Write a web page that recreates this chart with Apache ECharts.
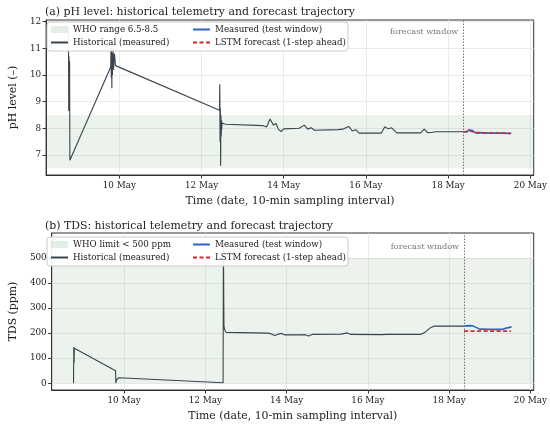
<!DOCTYPE html>
<html>
<head>
<meta charset="utf-8">
<script src="https://cdn.jsdelivr.net/npm/echarts@6/dist/echarts.min.js"></script>
<style>
  html, body { margin: 0; padding: 0; background: #fff; }
  #main { width: 550px; height: 425px; }
</style>
</head>
<body>
<div id="main"></div>
<script>
// times are "DD HH:MM" in May, 10-min sampling
const phHistT = ['08 18:20','08 18:30','08 18:40','08 18:50','08 19:00','08 19:10',
  '09 19:00','09 19:10','09 19:20','09 19:30','09 19:40','09 19:50','09 20:00','09 20:20','09 20:40','09 21:10','09 21:50',
  '12 10:30','12 10:40','12 10:50','12 11:00','12 11:10','12 11:20','12 11:30','12 11:40','12 11:50','12 12:00','12 12:20','12 13:00',
  '12 14:00','13 12:00','13 14:00','13 16:00','13 18:00','13 19:30','13 21:00','13 22:30','14 00:00',
  '14 09:00','14 09:30','14 12:00','14 14:00','14 16:00','14 18:00',
  '15 08:00','15 09:00','15 11:00','15 14:00','15 16:00','15 18:00','15 20:00',
  '16 09:00','16 11:00','16 13:00','16 15:00','16 18:00',
  '17 08:00','17 10:00','17 12:00','17 15:00','17 16:30','18 08:50'];
const phHistV = [11.8, 8.65, 10.7, 8.9, 10.5, 6.8,
  10.3, 11.1, 9.9, 11.0, 9.5, 10.8, 10.0, 11.0, 10.2, 10.8, 10.35,
  8.68, 9.65, 7.5, 8.75, 6.6, 8.5, 7.7, 8.3, 7.95, 8.2, 8.15, 8.18,
  8.15, 8.1, 8.05, 8.35, 8.12, 8.18, 7.95, 7.88, 7.98,
  8.0, 7.95, 8.12, 7.97, 8.02, 7.93,
  7.95, 7.88, 7.98, 8.07, 7.9, 7.95, 7.82,
  7.82, 8.06, 7.98, 8.02, 7.83,
  7.83, 7.97, 7.84, 7.85, 7.87, 7.87];
const phMeasT = ['18 08:50','18 10:00','18 11:00','18 12:00','18 13:00','18 14:00','18 16:00','18 18:00','19 00:00','19 06:00','19 12:50'];
const phMeasV = [7.87, 7.93, 7.86, 7.94, 7.88, 7.92, 7.83, 7.84, 7.82, 7.82, 7.81];
const phLstmT = ['18 08:50','18 10:00','18 12:00','18 14:00','18 16:00','18 20:00','19 06:00','19 12:30'];
const phLstmV = [7.86, 7.89, 7.9, 7.88, 7.84, 7.83, 7.82, 7.81];

const tdsHistT = ['08 18:10','08 18:20','08 18:30','08 18:40','09 19:00','09 19:10','09 19:20','09 19:40','09 21:00',
  '12 10:30','12 10:40','12 11:00','12 11:20','12 12:20','12 13:00',
  '13 13:00','13 15:00','13 17:00','13 19:00','13 21:00','13 23:00',
  '14 09:00','14 09:30','14 11:00','14 13:00','14 15:00',
  '15 08:00','15 12:00','15 14:00','16 08:00','16 09:00','16 11:00','16 12:00','16 13:00',
  '17 07:00','17 10:00','17 13:00','17 15:00','18 08:50'];
const tdsHistV = [0, 145, 80, 140, 50, 0, 2, 15, 22,
  2, 570, 230, 215, 203, 200,
  200, 197, 191, 196, 199, 193,
  193, 197, 194, 189, 195,
  196, 201, 195, 194, 190, 195, 191, 195,
  195, 205, 222, 228, 228];
const tdsMeasT = ['18 08:50','18 10:00','18 12:00','18 14:00','18 18:00','19 00:00','19 07:00','19 09:00','19 11:00','19 12:00','19 12:50'];
const tdsMeasV = [228, 226, 230, 229, 216, 215, 215, 219, 222, 227, 225];
const tdsLstmT = ['18 08:50','19 12:30'];
const tdsLstmV = [208, 208];

const forecastStart = '18 08:50';
const dayTicks = [10, 12, 14, 16, 18, 20];
const phTicks = [7, 8, 9, 10, 11, 12];
const tdsTicks = [0, 100, 200, 300, 400, 500];
const phBand = [6.5, 8.5];
const tdsBand = [0, 500];

function day(s) {
  const d = parseInt(s.slice(0, 2), 10);
  const h = parseInt(s.slice(3, 5), 10);
  const m = parseInt(s.slice(6, 8), 10);
  return d + h / 24 + m / 1440;
}
function pairs(t, v) { return t.map((s, i) => [day(s), v[i]]); }

const FONT = 'DejaVu Serif';
const INK = '#333333';
const HIST = '#3a444e';
const BLUE = '#2a66c0';
const RED = '#d62728';
const BAND = 'rgba(70,140,80,0.10)';

function xAxisFor(gi) {
  return {
    type: 'value', gridIndex: gi, min: 8.22, max: 20.08,
    name: 'Time (date, 10-min sampling interval)', nameLocation: 'middle', nameGap: 21,
    nameTextStyle: { fontFamily: FONT, fontSize: 10.9, color: '#222' },
    axisLine: { show: true, onZero: false, lineStyle: { color: INK } },
    axisTick: { show: true, customValues: dayTicks, length: 3.5, lineStyle: { color: INK } },
    axisLabel: { customValues: dayTicks, formatter: v => v + ' May', fontFamily: FONT, fontSize: 8.8, color: '#222', margin: 6 },
    splitLine: { show: true, lineStyle: { color: '#e6e6e6', width: 0.8 } }
  };
}
function yAxisFor(gi, name, min, max, ticks) {
  return {
    type: 'value', gridIndex: gi, min: min, max: max,
    name: name, nameLocation: 'middle', nameGap: 23,
    nameTextStyle: { fontFamily: FONT, fontSize: 10.9, color: '#222' },
    axisLine: { show: true, lineStyle: { color: INK } },
    axisTick: { show: true, customValues: ticks, length: 3.5, lineStyle: { color: INK } },
    axisLabel: { customValues: ticks, fontFamily: FONT, fontSize: 8.8, color: '#222', margin: 5 },
    splitLine: { show: true, lineStyle: { color: '#e6e6e6', width: 0.8 } }
  };
}
function lineSeries(name, gi, data, color, width, dashed, z) {
  return {
    name: name, type: 'line', xAxisIndex: gi, yAxisIndex: gi, data: data,
    symbol: 'none', animation: false, z: z,
    lineStyle: { color: color, width: width, type: dashed ? [4, 2.5] : 'solid' },
    itemStyle: { color: color }
  };
}
function bandSeries(name, gi, band) {
  return {
    name: name, type: 'line', xAxisIndex: gi, yAxisIndex: gi, data: [],
    symbol: 'none', animation: false, itemStyle: { color: BAND },
    markArea: { silent: true, itemStyle: { color: BAND }, data: [[{ yAxis: band[0] }, { yAxis: band[1] }]] }
  };
}
function vline(gi) {
  return {
    type: 'line', xAxisIndex: gi, yAxisIndex: gi, data: [], symbol: 'none', animation: false,
    markLine: { silent: true, symbol: 'none', label: { show: false },
      lineStyle: { color: '#777', type: [1.5, 1.5], width: 1 },
      data: [{ xAxis: day(forecastStart) }] }
  };
}
function legendPair(names, left, top, patchFirst) {
  return {
    orient: 'vertical', left: left, top: top, itemGap: 4, itemWidth: 17, itemHeight: 7,
    selectedMode: false, z: 20, padding: 0,
    itemStyle: { opacity: 0 },
    textStyle: { fontFamily: FONT, fontSize: 8.7, color: '#222', lineHeight: 9 },
    data: names.map((n, i) => (patchFirst && i === 0)
      ? { name: n, icon: 'rect', itemStyle: { color: 'rgba(70,140,80,0.15)', opacity: 1 } }
      : { name: n })
  };
}

const chart = echarts.init(document.getElementById('main'), null, { renderer: 'canvas' });
chart.setOption({
  backgroundColor: '#fff',
  animation: false,
  title: [
    { text: '(a) pH level: historical telemetry and forecast trajectory', left: 40, top: 2,
      textStyle: { fontFamily: FONT, fontSize: 10.9, fontWeight: 'normal', color: '#222' } },
    { text: '(b) TDS: historical telemetry and forecast trajectory', left: 40, top: 216,
      textStyle: { fontFamily: FONT, fontSize: 10.9, fontWeight: 'normal', color: '#222' } }
  ],
  grid: [
    { left: 43, right: 16, top: 20, height: 155, show: true, borderColor: INK, borderWidth: 1, backgroundColor: 'transparent' },
    { left: 43, right: 16, top: 233, height: 157, show: true, borderColor: INK, borderWidth: 1, backgroundColor: 'transparent' }
  ],
  xAxis: [xAxisFor(0), xAxisFor(1)],
  yAxis: [
    yAxisFor(0, 'pH level (–)', 6.25, 12.06, phTicks),
    yAxisFor(1, 'TDS (ppm)', -27, 600, tdsTicks)
  ],
  graphic: [
    { type: 'rect', z: 15, shape: { x: 47, y: 22, width: 301, height: 29, r: 3 },
      style: { fill: 'rgba(255,255,255,0.92)', stroke: '#cccccc', lineWidth: 1 } },
    { type: 'rect', z: 15, shape: { x: 47, y: 237, width: 301, height: 29, r: 3 },
      style: { fill: 'rgba(255,255,255,0.92)', stroke: '#cccccc', lineWidth: 1 } }
  ],
  legend: [
    legendPair(['WHO range 6.5-8.5', 'Historical (measured)'], 50, 25, true),
    legendPair(['Measured (test window)', 'LSTM forecast (1-step ahead)'], 192, 25, false),
    legendPair(['WHO limit < 500 ppm', 'Historical (measured)'], 50, 240, true),
    legendPair(['Measured (test window)', 'LSTM forecast (1-step ahead)'], 192, 240, false)
  ],
  series: [
    bandSeries('WHO range 6.5-8.5', 0, phBand),
    vline(0),
    lineSeries('Historical (measured)', 0, pairs(phHistT, phHistV), HIST, 1.1, false, 3),
    lineSeries('Measured (test window)', 0, pairs(phMeasT, phMeasV), BLUE, 1.6, false, 4),
    lineSeries('LSTM forecast (1-step ahead)', 0, pairs(phLstmT, phLstmV), RED, 1.6, true, 5),
    bandSeries('WHO limit < 500 ppm', 1, tdsBand),
    vline(1),
    lineSeries('Historical (measured)', 1, pairs(tdsHistT, tdsHistV), HIST, 1.1, false, 3),
    lineSeries('Measured (test window)', 1, pairs(tdsMeasT, tdsMeasV), BLUE, 1.6, false, 4),
    lineSeries('LSTM forecast (1-step ahead)', 1, pairs(tdsLstmT, tdsLstmV), RED, 1.6, true, 5)
  ]
});

// "forecast window" note, placed left of the dotted line near the top of each panel
const p0 = chart.convertToPixel({ gridIndex: 0 }, [day(forecastStart), 11.6]);
const p1 = chart.convertToPixel({ gridIndex: 1 }, [day(forecastStart), 544]);
chart.setOption({
  graphic: [
    {}, {},
    { type: 'text', z: 16, x: p0[0] - 5, y: p0[1], style: { text: 'forecast window', fontFamily: FONT, fontSize: 8.2, fill: '#777', align: 'right', verticalAlign: 'middle' } },
    { type: 'text', z: 16, x: p1[0] - 5, y: p1[1], style: { text: 'forecast window', fontFamily: FONT, fontSize: 8.2, fill: '#777', align: 'right', verticalAlign: 'middle' } }
  ]
});
</script>
</body>
</html>
